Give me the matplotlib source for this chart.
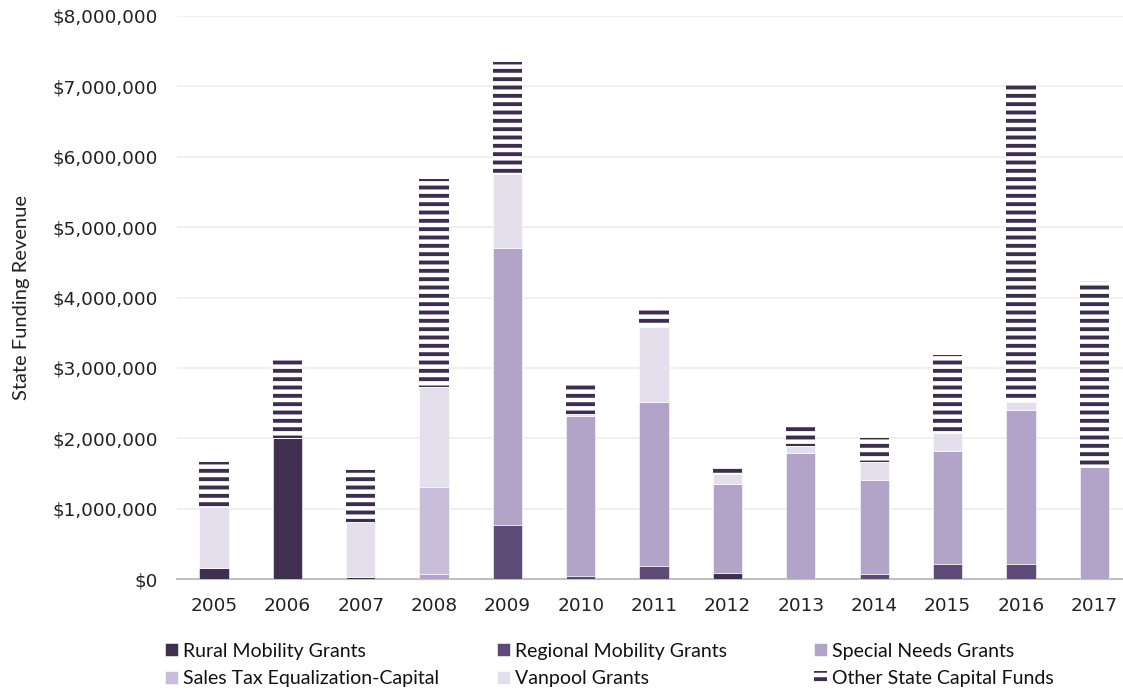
import matplotlib.pyplot as plt
import numpy as np
from matplotlib.ticker import FuncFormatter

# data (dollars)
years = ['2005', '2006', '2007', '2008', '2009', '2010', '2011',
         '2012', '2013', '2014', '2015', '2016', '2017']
rural = [156000, 2000000, 30000, 0, 0, 0, 0, 85000, 0, 0, 0, 0, 0]
regional = [0, 0, 0, 0, 770000, 50000, 190000, 0, 0, 75000, 210000, 210000, 0]
special = [0, 0, 0, 75000, 3930000, 2270000, 2330000, 1265000, 1790000,
           1335000, 1610000, 2190000, 1600000]
sales_tax = [0, 0, 0, 1235000, 0, 0, 0, 0, 0, 0, 0, 0, 0]
vanpool = [874000, 0, 780000, 1420000, 1050000, 20000, 1060000, 140000,
           100000, 260000, 260000, 110000, 0]
other = [630000, 1160000, 740000, 2950000, 1590000, 430000, 290000, 90000,
         310000, 340000, 1100000, 4520000, 2630000]

series = [
    ('Rural Mobility Grants', rural, '#403050'),
    ('Regional Mobility Grants', regional, '#5e4a78'),
    ('Special Needs Grants', special, '#b2a3c9'),
    ('Sales Tax Equalization-Capital', sales_tax, '#c8bddb'),
    ('Vanpool Grants', vanpool, '#e4dfec'),
]

plt.rcParams['font.family'] = ['Lato', 'DejaVu Sans']
plt.rcParams['hatch.linewidth'] = 2.8

fig = plt.figure(figsize=(11.23, 6.92), dpi=100)
ax = fig.add_axes([0.158, 0.163, 0.849, 0.814])

x = np.arange(len(years))
bottom = np.zeros(len(years))
handles = {}
for name, vals, col in series:
    b = ax.bar(x, vals, 0.4, bottom=bottom, color=col, edgecolor='white',
               linewidth=0.4, label=name, zorder=3)
    handles[name] = b
    bottom += np.array(vals)

b = ax.bar(x, other, 0.4, bottom=bottom, color='white', edgecolor='#3d2e4f',
           hatch='--', linewidth=0, label='Other State Capital Funds', zorder=3)
handles['Other State Capital Funds'] = b

ax.set_xlim(-0.5, 12.5)
ax.set_ylim(0, 8000000)
ax.set_yticks(np.arange(0, 8000001, 1000000))
ax.yaxis.set_major_formatter(FuncFormatter(lambda v, p: '${:,.0f}'.format(v)))
ax.set_xticks(x)
ax.set_xticklabels(years)
ax.tick_params(axis='y', length=0, pad=14, colors='#222222')
ax.tick_params(axis='x', length=0, pad=13, colors='#222222')
for lab in ax.get_xticklabels() + ax.get_yticklabels():
    lab.set_family(['DejaVu Sans'])
    lab.set_fontsize(13.3)

ax.grid(axis='y', color='#ededed', linewidth=1.2, zorder=0)
for s in ['top', 'right', 'left']:
    ax.spines[s].set_visible(False)
ax.spines['bottom'].set_color('#bfbfbf')
ax.spines['bottom'].set_linewidth(1.5)

ax.set_ylabel('State Funding Revenue', fontsize=14.5, color='#222222')
ax.yaxis.set_label_coords(-0.155, 0.5)

# three legend columns, placed by hand like the original
cols = [
    (['Rural Mobility Grants', 'Sales Tax Equalization-Capital'], 165),
    (['Regional Mobility Grants', 'Vanpool Grants'], 497),
    (['Special Needs Grants', 'Other State Capital Funds'], 814),
]
for names, xpix in cols:
    leg = fig.legend([handles[n] for n in names], names, frameon=False,
                     loc='center left', bbox_to_anchor=(xpix / 1123, 1 - 665 / 692),
                     fontsize=14, handlelength=0.65, handleheight=0.65,
                     handletextpad=0.3, labelspacing=0.55, borderpad=0,
                     borderaxespad=0)
    for t in leg.get_texts():
        t.set_color('#111111')

plt.savefig('out.png', dpi=100)
